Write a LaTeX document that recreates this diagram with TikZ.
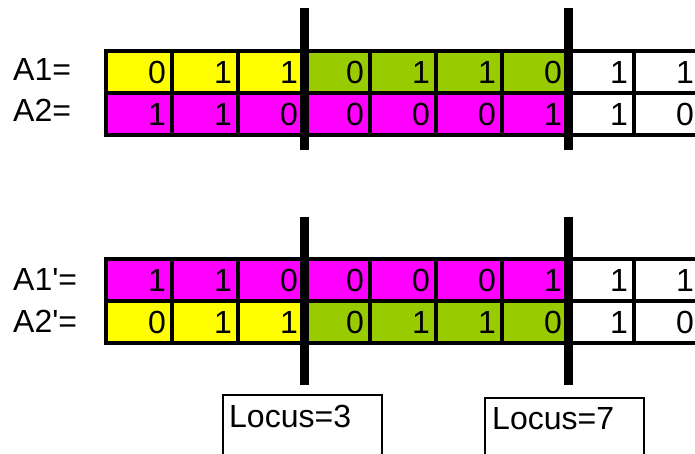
\documentclass[tikz,border=0pt]{standalone}
\usepackage{fontspec}
\setmainfont{Liberation Sans}
\usetikzlibrary{calc}
\definecolor{cyel}{HTML}{FFFF00}
\definecolor{cgrn}{HTML}{99CC00}
\definecolor{cmag}{HTML}{FF00FF}
\begin{document}
\begin{tikzpicture}[x=1pt,y=-1pt,
  bigfont/.style={font=\fontsize{32}{36}\selectfont},
  cell/.style={draw, line width=4pt, minimum width=66pt, minimum height=42pt,
    inner xsep=6pt, inner ysep=0pt, text width=54pt, align=right, bigfont},
  rowlabel/.style={anchor=base west, inner sep=0pt, bigfont},
  bar/.style={line width=9pt},
  locbox/.style={draw=black, line width=1.5pt, anchor=north west, inner sep=0pt},
  loctext/.style={anchor=base west, inner sep=0pt, bigfont}]
\useasboundingbox (0,0) rectangle (695,454);
\clip (0,0) rectangle (695,454);
% row A1
\foreach \v/\c [count=\i] in {0/cyel,1/cyel,1/cyel,0/cgrn,1/cgrn,1/cgrn,0/cgrn,1/white,1/white}
  \node[cell, fill=\c] (ra\i) at ({139+66*(\i-1)},72) {\v};
% row A2
\foreach \v/\c [count=\i] in {1/cmag,1/cmag,0/cmag,0/cmag,0/cmag,0/cmag,1/cmag,1/white,0/white}
  \node[cell, fill=\c] (rb\i) at ({139+66*(\i-1)},114) {\v};
% row A1'
\foreach \v/\c [count=\i] in {1/cmag,1/cmag,0/cmag,0/cmag,0/cmag,0/cmag,1/cmag,1/white,1/white}
  \node[cell, fill=\c] (rc\i) at ({139+66*(\i-1)},280) {\v};
% row A2'
\foreach \v/\c [count=\i] in {0/cyel,1/cyel,1/cyel,0/cgrn,1/cgrn,1/cgrn,0/cgrn,1/white,0/white}
  \node[cell, fill=\c] (rd\i) at ({139+66*(\i-1)},322) {\v};
% labels
\node[rowlabel] (la) at (13,81) {A1=};
\node[rowlabel] (lb) at (13,122) {A2=};
\node[rowlabel] (lc) at (13,290) {A1\textquotesingle=};
\node[rowlabel] (ld) at (13,332) {A2\textquotesingle=};
% crossover bars
\coordinate (b1t) at (304,8);   \coordinate (b1b) at (304,150);
\coordinate (b2t) at (568,8);   \coordinate (b2b) at (568,150);
\coordinate (b3t) at (304,217); \coordinate (b3b) at (304,385);
\coordinate (b4t) at (568,217); \coordinate (b4b) at (568,385);
\draw[bar] (b1t) -- (b1b);
\draw[bar] (b2t) -- (b2b);
\draw[bar] (b3t) -- (b3b);
\draw[bar] (b4t) -- (b4b);
% locus boxes
\node[locbox, minimum width=159pt, minimum height=80pt] (L3) at (222,394) {};
\node[loctext] (t3) at ($(L3.north west)+(7,33)$) {Locus=3};
\node[locbox, minimum width=159pt, minimum height=80pt] (L7) at (484,397) {};
\node[loctext] (t7) at ($(L7.north west)+(8,32)$) {Locus=7};
\end{tikzpicture}
\end{document}
